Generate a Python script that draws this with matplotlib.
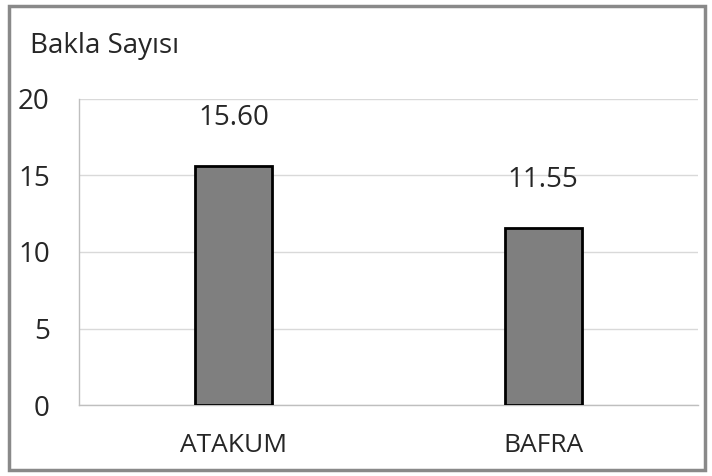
import matplotlib.pyplot as plt
from matplotlib.patches import Rectangle

# datos
categorias = ['ATAKUM', 'BAFRA']
valores = [15.60, 11.55]
yticks = [0, 5, 10, 15, 20]

plt.rcParams['font.family'] = ['Open Sans', 'DejaVu Sans']

fig = plt.figure(figsize=(7.12, 4.76), dpi=100)
ax = fig.add_axes([79 / 712, 71 / 476, 619 / 712, 306 / 476])

x = range(len(categorias))
ax.bar(x, valores, width=0.25, color='#7f7f7f', edgecolor='black', linewidth=2, zorder=3)

for xi, v in zip(x, valores):
    ax.annotate(f'{v:.2f}', (xi, v), xytext=(0, 30), textcoords='offset points',
                ha='center', va='baseline', fontsize=20, color='#262626')

ax.set_xlim(-0.5, len(categorias) - 0.5)
ax.set_ylim(0, 20)
ax.set_yticks(yticks)
ax.set_xticks(list(x))
ax.set_xticklabels(categorias)
ax.tick_params(axis='y', length=0, labelsize=20, colors='#262626', pad=21)
ax.tick_params(axis='x', length=0, labelsize=19, colors='#262626', pad=20)
ax.grid(axis='y', color='#d9d9d9', linewidth=1, zorder=0)

for s in ['top', 'right']:
    ax.spines[s].set_visible(False)
for s in ['left', 'bottom']:
    ax.spines[s].set_color('#bfbfbf')
    ax.spines[s].set_linewidth(1)

fig.text(30 / 712, 1 - 53 / 476, 'Bakla Sayısı', fontsize=20, color='#262626', va='baseline', ha='left')

# borde
fig.patches.append(Rectangle((9 / 712, 6 / 476), 696 / 712, 464 / 476, transform=fig.transFigure,
                             fill=False, edgecolor='#898989', linewidth=2.5))

fig.savefig('out.png', dpi=100)
